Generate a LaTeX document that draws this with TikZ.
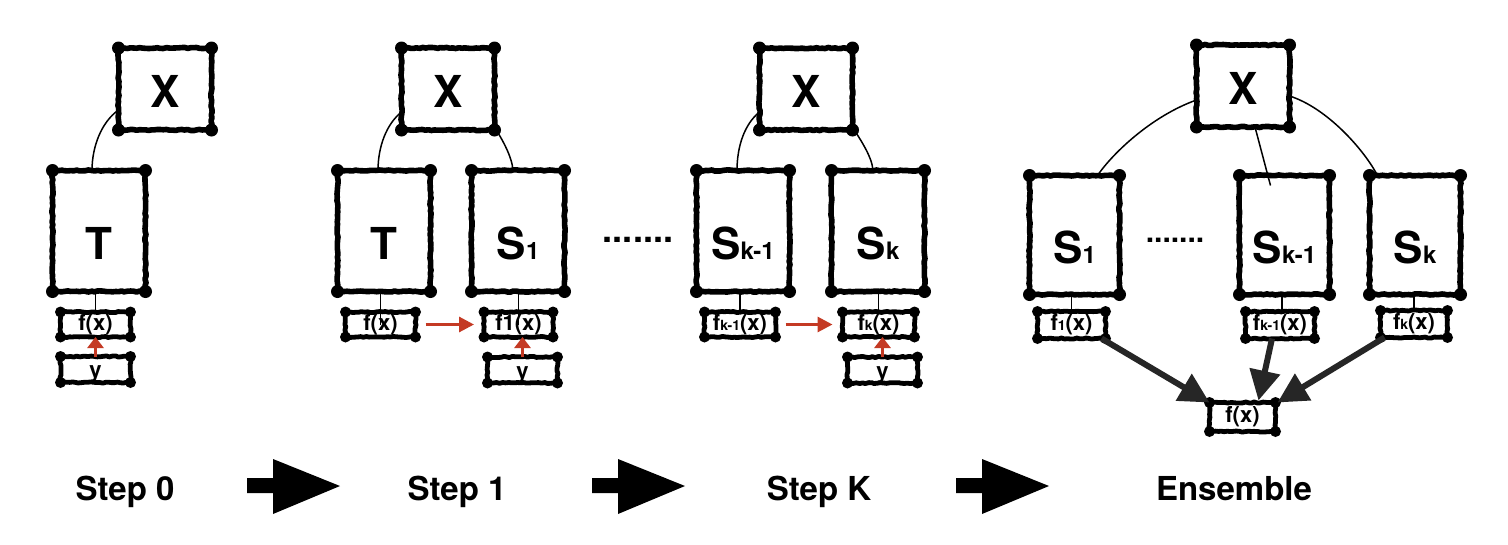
\documentclass[tikz,border=0pt]{standalone}
\usepackage{fontspec}
\setmainfont{TeX Gyre Heros}
\usetikzlibrary{arrows.meta,calc,decorations.pathmorphing}
\definecolor{arrred}{RGB}{196,58,36}
\newcommand\bigfont{\fontsize{44}{44}\selectfont\bfseries}
\newcommand\labfont{\fontsize{22}{22}\selectfont\bfseries}
\newcommand\subf[1]{{\fontsize{14}{14}\selectfont #1}}
\newcommand\Ssub[1]{S{\fontsize{24}{24}\selectfont #1}}
\newcommand\low[2]{\raisebox{-#1}[0pt][0pt]{#2}}
\newcommand\blobs[2]{\foreach \c in {north west,north east,south west,south east}{\fill (#1.\c) circle (#2);}}
\begin{document}
\begin{tikzpicture}[x=1pt,y=-1pt,
  sk/.style={decorate, decoration={random steps, segment length=3pt, amplitude=0.6pt}},
  box/.style={draw, fill=white, line width=5.6pt, line join=round, outer sep=0pt, inner sep=0pt, sk},
  bigbox/.style={box, minimum width=93pt, minimum height=121pt, font=\bigfont},
  xbox/.style={box, minimum width=93pt, minimum height=82pt, font=\bigfont},
  fbox/.style={box, line width=4.8pt, minimum height=25pt, font=\labfont},
  conn/.style={line width=1.5pt},
  redh/.style={draw=arrred, line width=3pt, -{Triangle[length=15pt,width=15pt]}},
  redv/.style={draw=arrred, line width=3pt, -{Triangle[length=11pt,width=16pt]}},
  thickarr/.style={line width=6pt, draw=black!85, -{Triangle[length=30pt,width=30pt]}},
  steplab/.style={font=\fontsize{33}{33}\selectfont\bfseries, anchor=base},
  dots/.style={font=\bfseries}
]
\pgfmathsetseed{7}
\fill[white] (0,0) rectangle (1508,544);
\useasboundingbox (0,0) rectangle (1508,544);

% ---------- Step 0
\node[xbox] (X0) at (165,89) {\low{18pt}{X}};
\node[bigbox] (T0) at (99,231) {\low{28pt}{T}};
\node[fbox, minimum width=70pt] (f0) at (95.5,324.5) {f(x)};
\node[fbox, minimum width=70pt, minimum height=26pt] (y0) at (95.5,369.5) {\low{8pt}{y}};

% ---------- Step 1
\node[xbox] (X1) at (448,89) {\low{18pt}{X}};
\node[bigbox] (T1) at (384,231) {\low{28pt}{T}};
\node[bigbox] (S1) at (518,231) {\low{28pt}{\Ssub{1}}};
\node[fbox, minimum width=70pt] (fa1) at (380.5,324.5) {f(x)};
\node[fbox, minimum width=69pt] (fb1) at (518.5,324.5) {f1(x)};
\node[fbox, minimum width=70pt, minimum height=26pt] (y1) at (522.5,370) {\low{8pt}{y}};
\node[dots, font=\fontsize{36}{36}\selectfont\bfseries] (d1) at (638,240) {.......};

% ---------- Step K
\node[xbox] (XK) at (806,89) {\low{18pt}{X}};
\node[bigbox] (Sk1) at (743,231) {\low{28pt}{\Ssub{k-1}}};
\node[bigbox] (Sk) at (878,231) {\low{28pt}{\Ssub{k}}};
\node[fbox, minimum width=71pt] (fk1) at (740,324.5) {f\subf{k-1}(x)};
\node[fbox, minimum width=72pt] (fk) at (878.5,324.5) {f\subf{k}(x)};
\node[fbox, minimum width=70pt, minimum height=26pt] (yK) at (882.5,370) {\low{8pt}{y}};

% ---------- Ensemble
\node[xbox] (XE) at (1243,86) {\low{18pt}{X}};
\node[bigbox, minimum width=90pt, minimum height=119pt] (E1) at (1074.5,235) {\low{28pt}{\Ssub{1}}};
\node[bigbox, minimum width=90pt, minimum height=119pt] (Ek1) at (1284.5,235) {\low{28pt}{\Ssub{k-1}}};
\node[bigbox, minimum width=91pt, minimum height=119pt] (Ek) at (1415,235) {\low{28pt}{\Ssub{k}}};
\node[dots, font=\fontsize{30}{30}\selectfont\bfseries] (d2) at (1175,240) {.......};
\node[fbox, minimum width=68pt, minimum height=27pt] (ef1) at (1071.5,325) {f\subf{1}(x)};
\node[fbox, minimum width=69pt, minimum height=27pt] (efk1) at (1280,325) {f\subf{k-1}(x)};
\node[fbox, minimum width=67pt, minimum height=27pt] (efk) at (1414,324) {f\subf{k}(x)};
\node[fbox, minimum width=66pt, minimum height=29pt] (ef) at (1242.5,417) {f(x)};

% corner blobs
\foreach \n in {X0,T0,X1,T1,S1,XK,Sk1,Sk,XE,E1,Ek1,Ek}{\blobs{\n}{6.5pt}}
\foreach \n in {f0,y0,fa1,fb1,y1,fk1,fk,yK,ef1,efk1,efk,ef}{\blobs{\n}{5.5pt}}

% ---------- connectors
% step 0
\draw[conn] ($(X0.west)+(0,21)$) .. controls ($(X0.west)+(-17,33)$) and ($(T0.north)+(-7,-24)$) .. ($(T0.north)+(-7,0)$);
\draw[conn] (f0.north |- T0.south) -- (f0.north);
\draw[redv] (y0.north) -- (f0.south);
% step 1
\draw[conn] ($(X1.west)+(0,23)$) .. controls ($(X1.west)+(-15,35)$) and ($(T1.north)+(-6,-24)$) .. ($(T1.north)+(-6,0)$);
\draw[conn] ($(X1.south east)+(0,-3)$) .. controls ($(X1.south east)+(8,10)$) and ($(S1.north)+(-6,-14)$) .. ($(S1.north)+(-5,0)$);
\draw[conn] (fa1.center |- T1.south) -- (fa1.center);
\draw[conn] (fb1.center |- S1.south) -- (fb1.center);
\draw[redh] ($(fa1.east)+(10,0)$) -- ($(fb1.west)+(-10,0)$);
\draw[redv] (y1.north) -- (y1.north |- fb1.south);
% step K
\draw[conn] ($(XK.west)+(0,23)$) .. controls ($(XK.west)+(-15,35)$) and ($(Sk1.north)+(-6,-24)$) .. ($(Sk1.north)+(-6,0)$);
\draw[conn] ($(XK.south east)+(0,-3)$) .. controls ($(XK.south east)+(8,10)$) and ($(Sk.north)+(-6,-14)$) .. ($(Sk.north)+(-5,0)$);
\draw[conn] (fk1.north |- Sk1.south) -- (fk1.north);
\draw[conn] (fk.north |- Sk.south) -- (fk.north);
\draw[redh] ($(fk1.east)+(10,0)$) -- ($(fk.west)+(-10,0)$);
\draw[redv] (yK.north) -- (yK.north |- fk.south);
% ensemble
\draw[conn] ($(XE.west)+(0,14)$) .. controls ($(XE.west)+(-45,30)$) and ($(E1.north east)+(-7,-22)$) .. ($(E1.north east)+(-22,0)$);
\draw[conn] ($(XE.south)+(12,0)$) -- ($(Ek1.north)+(-14,10)$);
\draw[conn] ($(XE.east)+(0,10)$) .. controls ($(XE.east)+(38,22)$) and ($(Ek.north west)+(-5,-25)$) .. ($(Ek.north west)+(8,0)$);
\draw[conn] (ef1.north |- E1.south) -- (ef1.north);
\draw[conn] ($(efk1.north |- Ek1.south)+(2,0)$) -- ($(efk1.north)+(2,0)$);
\draw[conn] (efk.north |- Ek.south) -- (efk.north);
\draw[thickarr] ($(ef1.south east)+(-4,0)$) -- (ef.north west);
\draw[thickarr] ($(efk1.south)+(-8,0)$) -- ($(ef.north)+(16,-2)$);
\draw[thickarr] ($(efk.south west)+(4,0)$) -- ($(ef.north east)+(2,0)$);

% ---------- bottom labels and arrows
\node[steplab] (L0) at (125,500) {Step 0};
\node[steplab] (L1) at (457,500) {Step 1};
\node[steplab] (LK) at (819,500) {Step K};
\node[steplab] (LE) at (1234,500) {Ensemble};
\foreach \ax in {247,592,956}{
  \fill[black] (\ax,478) -- (\ax+26,478) -- (\ax+26,459) -- (\ax+93,486) -- (\ax+26,514) -- (\ax+26,493) -- (\ax,493) -- cycle;
}
\end{tikzpicture}
\end{document}
